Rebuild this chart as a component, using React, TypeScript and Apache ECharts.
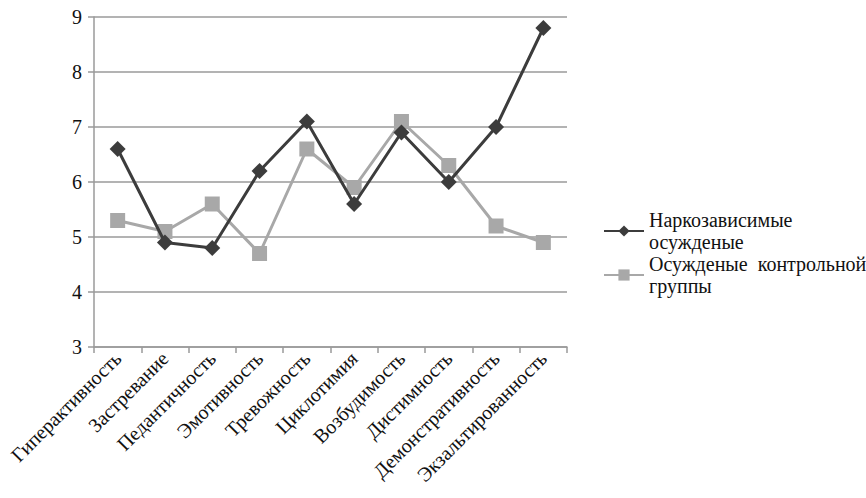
import React, { useEffect, useRef } from "react";
import * as echarts from "echarts";

const categories = [
  "Гиперактивность",
  "Застревание",
  "Педантичность",
  "Эмотивность",
  "Тревожность",
  "Циклотимия",
  "Возбудимость",
  "Дистимность",
  "Демонстративность",
  "Экзальтированность",
];
const seriesNames = ["Наркозависимые\nосужденые", "Осужденые  контрольной\nгруппы"];
const addicted = [6.6, 4.9, 4.8, 6.2, 7.1, 5.6, 6.9, 6.0, 7.0, 8.8];
const control = [5.3, 5.1, 5.6, 4.7, 6.6, 5.9, 7.1, 6.3, 5.2, 4.9];
const yTicks = { min: 3, max: 9, interval: 1 };

export default function App() {
  const ref = useRef<HTMLDivElement>(null);
  useEffect(() => {
    const chart = echarts.init(ref.current!, undefined, { renderer: "svg" });
    const font = "Liberation Serif";
    chart.setOption({
      animation: false,
      backgroundColor: "#fff",
      grid: { left: 94, right: 299, top: 17, bottom: 151, containLabel: false },
      legend: {
        orient: "vertical",
        left: 598,
        top: 204,
        itemWidth: 40,
        itemHeight: 14,
        itemGap: 0,
        textStyle: { fontFamily: font, fontSize: 20, color: "#111", lineHeight: 22 },
        data: [seriesNames[0], seriesNames[1]],
      },
      xAxis: {
        type: "category",
        data: categories,
        boundaryGap: true,
        axisLine: { lineStyle: { color: "#9a9a9a", width: 1.5 } },
        axisTick: { show: true, length: 6, lineStyle: { color: "#9a9a9a", width: 1.5 } },
        axisLabel: {
          rotate: 45,
          interval: 0,
          fontFamily: font,
          fontSize: 20,
          color: "#111",
          margin: 8,
        },
      },
      yAxis: {
        type: "value",
        min: yTicks.min,
        max: yTicks.max,
        interval: yTicks.interval,
        axisLine: { show: true, lineStyle: { color: "#9a9a9a", width: 1.5 } },
        axisTick: { show: true, length: 6, lineStyle: { color: "#9a9a9a", width: 1.5 } },
        splitLine: { lineStyle: { color: "#9a9a9a", width: 1.5 } },
        axisLabel: { fontFamily: font, fontSize: 20, color: "#111", margin: 12 },
      },
      series: [
        {
          name: seriesNames[0],
          type: "line",
          data: addicted,
          symbol: "diamond",
          symbolSize: 16,
          lineStyle: { color: "#3c3c3c", width: 3 },
          itemStyle: { color: "#3c3c3c" },
          z: 3,
        },
        {
          name: seriesNames[1],
          type: "line",
          data: control,
          symbol: "rect",
          symbolSize: 15,
          lineStyle: { color: "#a8a8a8", width: 3 },
          itemStyle: { color: "#a8a8a8" },
          z: 2,
        },
      ],
    });
    return () => chart.dispose();
  }, []);
  return <div ref={ref} style={{ width: 866, height: 498, position: "absolute", left: 0, top: 0 }} />;
}
